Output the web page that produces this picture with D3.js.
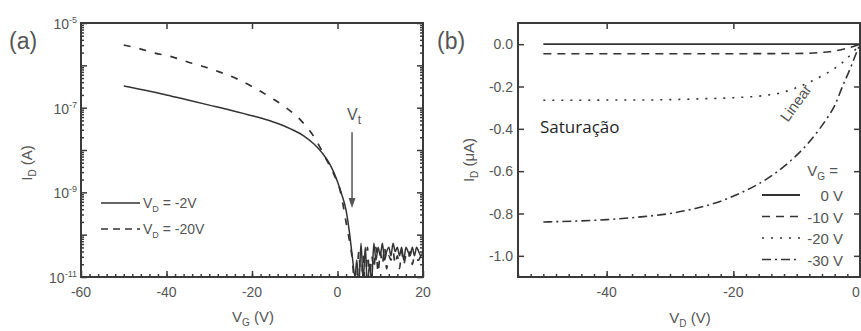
<!DOCTYPE html>
<html>
<head>
<meta charset="utf-8">
<title>transfer and output curves</title>
<script src="https://d3js.org/d3.v7.min.js"></script>
<style>
  body { margin: 0; background: #fff; }
  text { font-family: "Liberation Sans", Arial, sans-serif; fill: #555; }
</style>
</head>
<body>
<script>
// ---- panel (a): I_D vs V_G, log10(I_D / A) ----
const vgSolid = [-50, -45, -40, -35, -30, -25, -20, -15, -11, -8, -5.5, -3.5, -2, -1, 0, 1, 2, 2.8, 3.5, 4.1,
  4.5, 5, 5.5, 6, 6.5, 7, 7.5, 8, 8.5, 9, 9.5, 10, 10.5, 11, 11.5, 12, 12.5, 13, 13.5, 14, 14.5, 15, 15.5, 16, 16.5, 17, 17.5, 18, 18.5, 19, 19.5, 20];
const logSolid = [-6.49, -6.59, -6.70, -6.82, -6.94, -7.06, -7.19, -7.34, -7.50, -7.66, -7.86, -8.08, -8.30, -8.50, -8.75, -9.05, -9.42, -9.95, -10.55, -11.0,
  -10.6, -11.2, -10.2, -11.1, -10.3, -11.2, -10.7, -11.1, -10.2, -10.6, -10.3, -10.5, -10.2, -10.6, -10.4, -10.3, -10.5, -10.2, -10.4, -10.3, -10.5, -10.3, -10.6, -10.3, -10.4, -10.5, -10.3, -10.5, -10.3, -10.4, -10.5, -10.4];
const vgDash = [-50, -46.2, -42.7, -38.7, -35, -31, -27.5, -23.5, -19.3, -15.3, -12.3, -8.3, -5.3, -2.9, -1, 0.6, 2.2, 3.4, 3.9,
  4.5, 5, 5.5, 6, 6.5, 7, 7.5, 8, 8.5, 9, 9.5, 10, 10.5, 11, 11.5, 12, 12.5, 13, 13.5, 14, 14.5, 15, 15.5, 16, 16.5, 17, 17.5, 18, 18.5, 19, 19.5, 20];
const logDash = [-5.52, -5.61, -5.71, -5.80, -5.92, -6.04, -6.16, -6.32, -6.54, -6.78, -6.98, -7.33, -7.72, -8.17, -8.54, -8.95, -9.82, -10.53, -11.0,
  -11.0, -10.4, -11.3, -10.5, -11.2, -10.3, -11.1, -10.5, -10.8, -10.3, -10.9, -10.4, -10.7, -10.3, -10.8, -10.5, -10.6, -10.4, -10.7, -10.5, -10.8, -10.4, -10.7, -10.5, -10.6, -10.4, -10.7, -10.5, -10.6, -10.6, -10.5, -10.6];
const vtValue = 3.4;          // V
const vtArrowLog = [-7.58, -9.37];
const xTicksA = [-60, -40, -20, 0, 20];
const yExpLabels = [-5, -7, -9, -11];

// ---- panel (b): I_D (uA) vs V_D ----
const vdG0 = [-50, -25, 0];
const idG0 = [0, 0, 0];
const vdG10 = [-50, -30, -20, -10, -6, -4, -2, 0];
const idG10 = [-0.045, -0.045, -0.045, -0.044, -0.039, -0.032, -0.019, 0];
const vdG20 = [-50, -45, -40, -35, -30, -25, -20, -15, -12, -10.5, -8, -5.8, -5, -2.7, -1, 0];
const idG20 = [-0.265, -0.265, -0.264, -0.264, -0.262, -0.258, -0.253, -0.242, -0.226, -0.211, -0.180, -0.146, -0.133, -0.085, -0.035, 0];
const vdG30 = [-50, -45, -40, -35, -30, -27, -23, -19, -16, -13.5, -11, -8.4, -6.5, -5.2, -4, -2.7, -1.5, -0.8, 0];
const idG30 = [-0.840, -0.836, -0.829, -0.817, -0.800, -0.783, -0.752, -0.705, -0.660, -0.612, -0.552, -0.475, -0.405, -0.350, -0.290, -0.195, -0.112, -0.058, 0];
const xTicksB = [-40, -20, 0];
const yTicksB = [0, -0.2, -0.4, -0.6, -0.8, -1.0];
const legendB = ["0 V", "-10 V", "-20 V", "-30 V"];

const W = 861, H = 331;
const ink = "#333", axisInk = "#3a3a3a";

const svg = d3.select("body").append("svg").attr("width", W).attr("height", H);

// scales
const xA = d3.scaleLinear().domain([-60, 20]).range([81, 423]);
const yA = d3.scaleLog().domain([1e-11, 1e-5]).range([277, 23]);
const xB = d3.scaleLinear().domain([-54, 0]).range([518, 860]);
const yB = d3.scaleLinear().domain([-1.1, 0.1]).range([277, 23]);

function styleAxis(g) {
  g.select(".domain").remove();
  g.selectAll("line").attr("stroke", axisInk).attr("stroke-width", 1.5);
}

// ===== panel (a) =====
const gA = svg.append("g");
const minorA = [];
d3.range(-11, -5).forEach(e => { for (let k = 2; k <= 9; k++) minorA.push(k * Math.pow(10, e)); });
const majorA = d3.range(-11, -4).map(e => Math.pow(10, e));

gA.append("g").attr("transform", `translate(${xA.range()[0]},0)`)
  .call(d3.axisLeft(yA).tickValues(majorA).tickSize(-6).tickFormat("")).call(styleAxis);
gA.append("g").attr("transform", `translate(${xA.range()[0]},0)`)
  .call(d3.axisLeft(yA).tickValues(minorA).tickSize(-3).tickFormat("")).call(styleAxis);
gA.append("g").attr("transform", `translate(${xA.range()[1]},0)`)
  .call(d3.axisRight(yA).tickValues(majorA).tickSize(-6).tickFormat("")).call(styleAxis);
gA.append("g").attr("transform", `translate(${xA.range()[1]},0)`)
  .call(d3.axisRight(yA).tickValues(minorA).tickSize(-3).tickFormat("")).call(styleAxis);
gA.append("g").attr("transform", `translate(0,${yA.range()[0]})`)
  .call(d3.axisBottom(xA).tickValues(xTicksA).tickSize(-6).tickFormat("")).call(styleAxis);
gA.append("g").attr("transform", `translate(0,${yA.range()[0]})`)
  .call(d3.axisBottom(xA).tickValues(d3.range(-58, 20, 2)).tickSize(-3).tickFormat("")).call(styleAxis);
gA.append("g").attr("transform", `translate(0,${yA.range()[1]})`)
  .call(d3.axisTop(xA).tickValues([-40, -20, 0]).tickSize(-6).tickFormat("")).call(styleAxis);

gA.append("rect")
  .attr("x", xA.range()[0]).attr("y", yA.range()[1])
  .attr("width", xA.range()[1] - xA.range()[0]).attr("height", yA.range()[0] - yA.range()[1])
  .attr("fill", "none").attr("stroke", axisInk).attr("stroke-width", 2);

// tick labels
xTicksA.forEach(v => {
  gA.append("text").attr("x", xA(v)).attr("y", 297).attr("text-anchor", "middle")
    .style("font-size", "14px").text(v);
});
yExpLabels.forEach(e => {
  const t = gA.append("text").attr("x", 77).attr("y", yA(Math.pow(10, e)) + 6)
    .attr("text-anchor", "end").style("font-size", "14px");
  t.append("tspan").text("10");
  t.append("tspan").attr("dy", -6).style("font-size", "9px").text(e);
});

// curves
gA.append("clipPath").attr("id", "clipA").append("rect")
  .attr("x", xA.range()[0]).attr("y", yA.range()[1])
  .attr("width", xA.range()[1] - xA.range()[0]).attr("height", yA.range()[0] - yA.range()[1]);

const lineA = d3.line().x(d => xA(d[0])).y(d => yA(d[1])).curve(d3.curveMonotoneX);
const solidA = vgSolid.map((v, i) => [v, Math.pow(10, logSolid[i])]);
const dashA = vgDash.map((v, i) => [v, Math.pow(10, logDash[i])]);
const curvesA = gA.append("g").attr("clip-path", "url(#clipA)");
curvesA.append("path").attr("d", lineA(dashA)).attr("fill", "none")
  .attr("stroke", ink).attr("stroke-width", 1.7).attr("stroke-dasharray", "7,9");
curvesA.append("path").attr("d", lineA(solidA)).attr("fill", "none")
  .attr("stroke", ink).attr("stroke-width", 1.5);

// V_t arrow
const ax = xA(vtValue), ay0 = yA(Math.pow(10, vtArrowLog[0])), ay1 = yA(Math.pow(10, vtArrowLog[1]));
gA.append("line").attr("x1", ax).attr("x2", ax).attr("y1", ay0).attr("y2", ay1 - 8)
  .attr("stroke", "#555").attr("stroke-width", 1.5);
gA.append("path").attr("d", `M${ax - 3.5},${ay1 - 10}L${ax + 3.5},${ay1 - 10}L${ax},${ay1}Z`).attr("fill", "#555");
const vt = gA.append("text").attr("x", ax - 5).attr("y", ay0 - 12).style("font-size", "16px");
vt.append("tspan").text("V");
vt.append("tspan").attr("dy", 4).style("font-size", "12px").text("t");

// legend (a)
[["", "-2V"], ["7,5", "-20V"]].forEach((d, i) => {
  const y = 203 + i * 26;
  gA.append("line").attr("x1", 101).attr("x2", 140).attr("y1", y).attr("y2", y)
    .attr("stroke", ink).attr("stroke-width", 1.6).attr("stroke-dasharray", d[0] || null);
  const t = gA.append("text").attr("x", 143).attr("y", y + 5).style("font-size", "14px");
  t.append("tspan").text("V");
  t.append("tspan").attr("dy", 4).style("font-size", "9px").text("D");
  t.append("tspan").attr("dy", -4).text(" = " + d[1]);
});

// labels (a)
gA.append("text").attr("x", 9).attr("y", 49).style("font-size", "23px").text("(a)");
const xlA = gA.append("text").attr("x", 253).attr("y", 322).attr("text-anchor", "middle").style("font-size", "15px");
xlA.append("tspan").text("V");
xlA.append("tspan").attr("dy", 4).style("font-size", "10px").text("G");
xlA.append("tspan").attr("dy", -4).text(" (V)");
const ylA = gA.append("text").attr("transform", "translate(32,163) rotate(-90)").attr("text-anchor", "middle").style("font-size", "15px");
ylA.append("tspan").text("I");
ylA.append("tspan").attr("dy", 4).style("font-size", "10px").text("D");
ylA.append("tspan").attr("dy", -4).text(" (A)");

// ===== panel (b) =====
const gB = svg.append("g");
gB.append("g").attr("transform", `translate(${xB.range()[0]},0)`)
  .call(d3.axisLeft(yB).tickValues(yTicksB).tickSize(-6).tickFormat("")).call(styleAxis);
gB.append("g").attr("transform", `translate(${xB.range()[1]},0)`)
  .call(d3.axisRight(yB).tickValues(yTicksB).tickSize(-6).tickFormat("")).call(styleAxis);
gB.append("g").attr("transform", `translate(0,${yB.range()[0]})`)
  .call(d3.axisBottom(xB).tickValues(xTicksB).tickSize(-6).tickFormat("")).call(styleAxis);
gB.append("g").attr("transform", `translate(0,${yB.range()[0]})`)
  .call(d3.axisBottom(xB).tickValues(d3.range(-54, 0, 2)).tickSize(-3).tickFormat("")).call(styleAxis);
gB.append("g").attr("transform", `translate(0,${yB.range()[1]})`)
  .call(d3.axisTop(xB).tickValues(xTicksB).tickSize(-6).tickFormat("")).call(styleAxis);
gB.append("rect")
  .attr("x", xB.range()[0]).attr("y", yB.range()[1])
  .attr("width", xB.range()[1] - xB.range()[0]).attr("height", yB.range()[0] - yB.range()[1])
  .attr("fill", "none").attr("stroke", axisInk).attr("stroke-width", 2);

xTicksB.forEach(v => {
  gB.append("text").attr("x", Math.min(xB(v), 856)).attr("y", 297).attr("text-anchor", "middle")
    .style("font-size", "14px").text(v);
});
yTicksB.forEach(v => {
  gB.append("text").attr("x", 513).attr("y", yB(v) + 5).attr("text-anchor", "end")
    .style("font-size", "14px").text(d3.format(".1f")(v).replace("−", "-"));
});

const lineB = d3.line().x(d => xB(d[0])).y(d => yB(d[1])).curve(d3.curveMonotoneX);
const seriesB = [
  { vd: vdG0, id: idG0, dash: null, w: 1.8 },
  { vd: vdG10, id: idG10, dash: "8,6", w: 1.6 },
  { vd: vdG20, id: idG20, dash: "2,7", w: 1.6 },
  { vd: vdG30, id: idG30, dash: "9,4,2,4", w: 1.6 }
];
seriesB.forEach(s => {
  gB.append("path").attr("d", lineB(s.vd.map((v, i) => [v, s.id[i]])))
    .attr("fill", "none").attr("stroke", ink).attr("stroke-width", s.w)
    .attr("stroke-dasharray", s.dash);
});

// legend (b)
const lgT = gB.append("text").attr("x", 838).attr("y", 176).attr("text-anchor", "end").style("font-size", "15px");
lgT.append("tspan").text("V");
lgT.append("tspan").attr("dy", 4).style("font-size", "10px").text("G");
lgT.append("tspan").attr("dy", -4).text(" =");
legendB.forEach((lab, i) => {
  const y = 195 + i * 21.5;
  gB.append("line").attr("x1", 762).attr("x2", 800).attr("y1", y).attr("y2", y)
    .attr("stroke", ink).attr("stroke-width", seriesB[i].w).attr("stroke-dasharray", seriesB[i].dash);
  gB.append("text").attr("x", 843).attr("y", y + 6).attr("text-anchor", "end")
    .style("font-size", "15px").text(lab);
});

gB.append("text").attr("x", 540).attr("y", 133).style("font-family", "'Open Sans', sans-serif")
  .style("font-size", "17px").style("fill", "#1e1e1e").text("Saturação");
gB.append("text").attr("transform", "translate(800,106) rotate(-54)").attr("text-anchor", "middle")
  .style("font-size", "15px").text("Linear");

gB.append("text").attr("x", 437).attr("y", 49).style("font-size", "23px").text("(b)");
const xlB = gB.append("text").attr("x", 690).attr("y", 323).attr("text-anchor", "middle").style("font-size", "15px");
xlB.append("tspan").text("V");
xlB.append("tspan").attr("dy", 4).style("font-size", "10px").text("D");
xlB.append("tspan").attr("dy", -4).text(" (V)");
const ylB = gB.append("text").attr("transform", "translate(474,160) rotate(-90)").attr("text-anchor", "middle").style("font-size", "15px");
ylB.append("tspan").text("I");
ylB.append("tspan").attr("dy", 4).style("font-size", "10px").text("D");
ylB.append("tspan").attr("dy", -4).text(" (μA)");
</script>
</body>
</html>
